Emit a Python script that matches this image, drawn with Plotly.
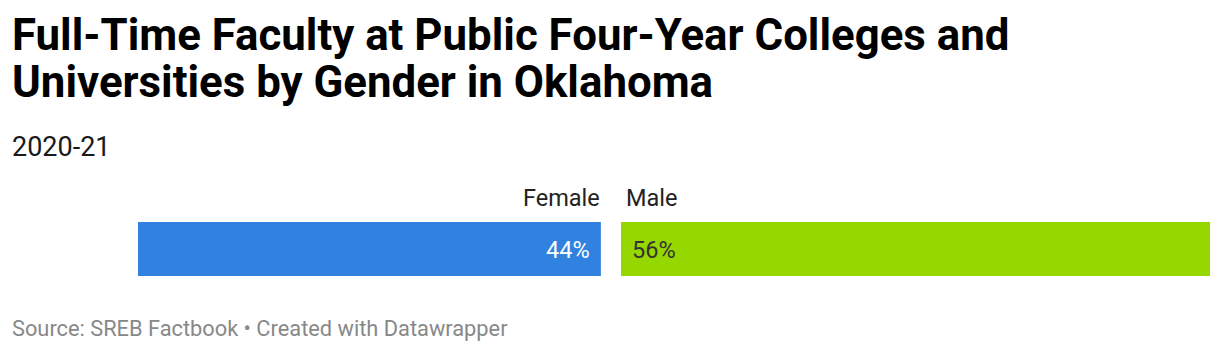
import plotly.graph_objects as go

# ---- data ----
categories = ["Female", "Male"]
values = [44, 56]
value_labels = ["44%", "56%"]
bar_colors = ["#3182E0", "#96D700"]
title_lines = ["Full-Time Faculty at Public Four-Year Colleges and",
               "Universities by Gender in Oklahoma"]
subtitle = "2020-21"
footer = "Source: SREB Factbook • Created with Datawrapper"

W, H = 1220, 352
left_px, right_px, gap_px = 138, 1210, 20
scale = (right_px - left_px - gap_px) / sum(values)
split1 = left_px + values[0] * scale
split2 = split1 + gap_px

bar_top, bar_bot = 222, 276
ydom = [1 - bar_bot / H, 1 - bar_top / H]

fig = go.Figure()
fig.add_trace(go.Bar(y=[0], x=[values[0]], orientation="h", width=1,
                     marker=dict(color=bar_colors[0], line=dict(width=0)),
                     xaxis="x", yaxis="y", hoverinfo="skip"))
fig.add_trace(go.Bar(y=[0], x=[values[1]], orientation="h", width=1,
                     marker=dict(color=bar_colors[1], line=dict(width=0)),
                     xaxis="x2", yaxis="y", hoverinfo="skip"))

ann = []
def px(x):
    return x / W
def py(y):
    return 1 - y / H

def paper(**kw):
    d = dict(xref="paper", yref="paper", showarrow=False)
    d.update(kw)
    return d

ann.append(paper(x=px(10), y=py(35), text=f"<b>{title_lines[0]}</b>", xanchor="left", yanchor="middle",
                 font=dict(family="Roboto", size=43.8, color="#000000")))
ann.append(paper(x=px(10), y=py(82), text=f"<b>{title_lines[1]}</b>", xanchor="left", yanchor="middle",
                 font=dict(family="Roboto", size=43.8, color="#000000")))
ann.append(paper(x=px(10), y=py(147), text=subtitle, xanchor="left", yanchor="middle",
                 font=dict(family="Roboto", size=27, color="#1a1a1a")))
ann.append(paper(x=px(split1 + 1), y=py(198), text=categories[0], xanchor="right", yanchor="middle",
                 font=dict(family="Roboto", size=23.5, color="#222222")))
ann.append(paper(x=px(split2 + 3), y=py(198), text=categories[1], xanchor="left", yanchor="middle",
                 font=dict(family="Roboto", size=23.5, color="#222222")))
ann.append(paper(x=px(10), y=py(328), text=footer, xanchor="left", yanchor="middle",
                 font=dict(family="Roboto", size=21.8, color="#888888")))
# value labels placed on the bars' own axes
ann.append(dict(xref="x", yref="y", x=0, y=0, text=value_labels[0], showarrow=False,
                xanchor="right", yanchor="middle", xshift=-9, yshift=-1,
                font=dict(family="Roboto", size=23.5, color="white")))
ann.append(dict(xref="x2", yref="y", x=0, y=0, text=value_labels[1], showarrow=False,
                xanchor="left", yanchor="middle", xshift=9, yshift=-1,
                font=dict(family="Roboto", size=23.5, color="#333333")))

fig.update_layout(
    width=W, height=H, margin=dict(l=0, r=0, t=0, b=0),
    paper_bgcolor="white", plot_bgcolor="white", showlegend=False,
    annotations=ann,
    xaxis=dict(domain=[px(left_px), px(split1)], range=[values[0], 0], visible=False, fixedrange=True),
    xaxis2=dict(domain=[px(split2), px(right_px)], range=[0, values[1]], visible=False, fixedrange=True),
    yaxis=dict(domain=ydom, range=[-0.5, 0.5], visible=False, fixedrange=True),
)
fig.write_html("out.html", config={"displayModeBar": False})
